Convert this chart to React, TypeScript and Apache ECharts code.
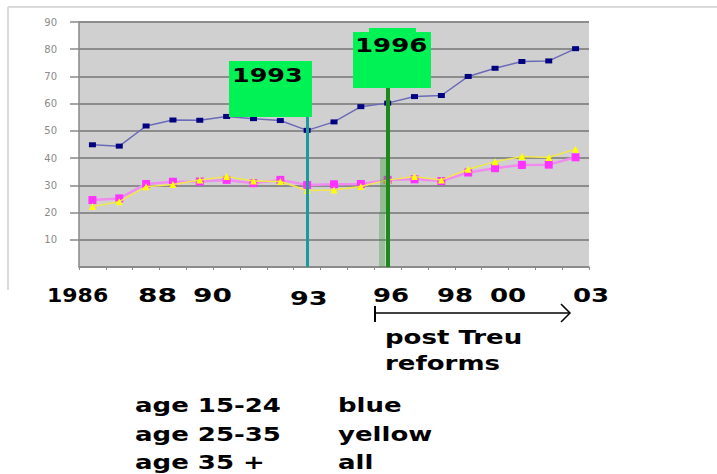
import React, { useEffect, useRef } from "react";
import * as echarts from "echarts";

const years = ["1985","1986","1987","1988","1989","1990","1991","1992","1993","1994","1995","1996","1997","1998","1999","2000","2001","2002","2003"];
const age15to24 = [44.9,44.4,51.8,54.0,53.9,55.3,54.5,53.8,50.2,53.3,58.9,60.2,62.6,63.0,70.0,73.0,75.5,75.7,80.2];
const age35plus = [24.6,25.2,30.5,31.3,31.4,32.0,30.8,32.0,30.1,30.4,30.5,32.0,32.2,31.6,34.7,36.3,37.5,37.6,40.3];
const age25to35 = [22.2,24.0,29.5,30.3,32.0,33.2,31.6,31.4,28.1,28.3,29.6,32.0,33.2,32.0,35.9,38.7,40.6,40.2,43.3];
const yTicks = [0, 90, 10];
const xTextLabels = [
  { t: "1986", x: 47, y: 295, sx: 1.1 },
  { t: "88", x: 138, y: 295, sx: 1.4 },
  { t: "90", x: 193, y: 295, sx: 1.4 },
  { t: "93", x: 290, y: 298, sx: 1.35 },
  { t: "96", x: 373, y: 295, sx: 1.3 },
  { t: "98", x: 437, y: 295, sx: 1.3 },
  { t: "00", x: 490, y: 295, sx: 1.3 },
  { t: "03", x: 573, y: 295, sx: 1.3 },
];
const legendRows = [
  ["age 15-24", "blue"],
  ["age 25-35", "yellow"],
  ["age 35 +", "all"],
];
const reforms = [
  { year: "1993", top: 55.1, color: "#1a9a9a", width: 3 },
  { year: "1996", top: 65.8, color: "#1a8a1a", width: 4 },
];

const FONT = "DejaVu Sans";

function bigText(text: string, x: number, y: number, sx = 1.3) {
  return {
    type: "text",
    x,
    y,
    scaleX: sx,
    z: 120,
    style: {
      text,
      fill: "#000",
      font: `bold 20px "${FONT}"`,
      textAlign: "left",
      textVerticalAlign: "middle",
    },
  };
}

export default function App() {
  const ref = useRef<HTMLDivElement>(null);
  useEffect(() => {
    if (!ref.current) return;
    const chart = echarts.init(ref.current, null, { renderer: "svg" });
    const graphics: any[] = [
      { type: "line", z: 1, shape: { x1: 8, y1: 7, x2: 717, y2: 7 }, style: { stroke: "#d9d9d9", lineWidth: 2 } },
      { type: "line", z: 1, shape: { x1: 8, y1: 7, x2: 8, y2: 290 }, style: { stroke: "#d9d9d9", lineWidth: 2 } },
      { type: "rect", z: 90, shape: { x: 380, y: 158, width: 10, height: 55 }, style: { fill: "rgba(40,150,40,0.35)" } },
      { type: "rect", z: 90, shape: { x: 379, y: 213, width: 6, height: 54 }, style: { fill: "rgba(40,150,40,0.3)" } },
      { type: "rect", z: 110, shape: { x: 229, y: 61, width: 83, height: 56 }, style: { fill: "#00f255" } },
      { type: "rect", z: 110, shape: { x: 353, y: 32, width: 78, height: 56 }, style: { fill: "#00f255" } },
      { type: "rect", z: 110, shape: { x: 369, y: 28, width: 47, height: 4 }, style: { fill: "#00f255" } },
      bigText("1993", 232, 75, 1.27),
      bigText("1996", 355, 45, 1.3),
      { type: "line", z: 120, shape: { x1: 376, y1: 313, x2: 570, y2: 313 }, style: { stroke: "#000", lineWidth: 1.5 } },
      { type: "line", z: 120, shape: { x1: 375, y1: 306, x2: 375, y2: 322 }, style: { stroke: "#000", lineWidth: 2 } },
      { type: "polyline", z: 120, shape: { points: [[561, 304], [570, 313], [561, 322]] }, style: { stroke: "#000", lineWidth: 1.5, fill: null } },
      bigText("post Treu", 385, 337),
      bigText("reforms", 385, 363),
    ];
    xTextLabels.forEach((l) => graphics.push(bigText(l.t, l.x, l.y, l.sx)));
    legendRows.forEach((r, i) => {
      graphics.push(bigText(r[0], 135, 405 + i * 28.5));
      graphics.push(bigText(r[1], 338, 405 + i * 28.5));
    });

    chart.setOption({
      animation: false,
      backgroundColor: "#fff",
      grid: { left: 79, right: 128, top: 22, bottom: 207, show: true, backgroundColor: "#d0d0d0", borderWidth: 0 },
      xAxis: {
        type: "category",
        data: years,
        boundaryGap: true,
        axisLine: { show: true, lineStyle: { color: "#8a8a8a", width: 1.5 } },
        axisTick: { show: true, length: 3, interval: 0, lineStyle: { color: "#8a8a8a" } },
        axisLabel: { show: false },
        splitLine: { show: false },
      },
      yAxis: {
        type: "value",
        min: yTicks[0],
        max: yTicks[1],
        interval: yTicks[2],
        axisLine: { show: true, lineStyle: { color: "#8a8a8a", width: 1.5 } },
        axisTick: { show: true, length: 9, lineStyle: { color: "#8a8a8a", width: 1.5 } },
        axisLabel: { show: true, showMinLabel: false, margin: 22, fontSize: 10, color: "#8a8a8a", fontFamily: FONT },
        splitLine: { show: true, lineStyle: { color: "#8c8c8c", width: 2 } },
      },
      series: [
        {
          name: "age 15-24",
          type: "line",
          data: age15to24,
          symbol: "rect",
          symbolSize: [7, 5],
          itemStyle: { color: "#000080" },
          lineStyle: { color: "#6a6ab8", width: 1.5 },
          z: 3,
          markLine: {
            silent: true,
            symbol: "none",
            label: { show: false },
            z: 95,
            data: reforms.map((r) => [
              { coord: [r.year, 0], lineStyle: { color: r.color, width: r.width, type: "solid" } },
              { coord: [r.year, r.top] },
            ]),
          },
        },
        {
          name: "age 35 +",
          type: "line",
          data: age35plus,
          symbol: "rect",
          symbolSize: 8,
          itemStyle: { color: "#ff33ff" },
          lineStyle: { color: "#f08cf0", width: 2.5 },
          z: 3,
        },
        {
          name: "age 25-35",
          type: "line",
          data: age25to35,
          symbol: "triangle",
          symbolSize: 7,
          itemStyle: { color: "#ffff00" },
          lineStyle: { color: "#f2e84a", width: 1.5 },
          z: 4,
        },
      ],
      graphic: graphics,
    });
    return () => chart.dispose();
  }, []);
  return <div ref={ref} style={{ position: "fixed", left: 0, top: 0, width: 717, height: 474 }} />;
}
